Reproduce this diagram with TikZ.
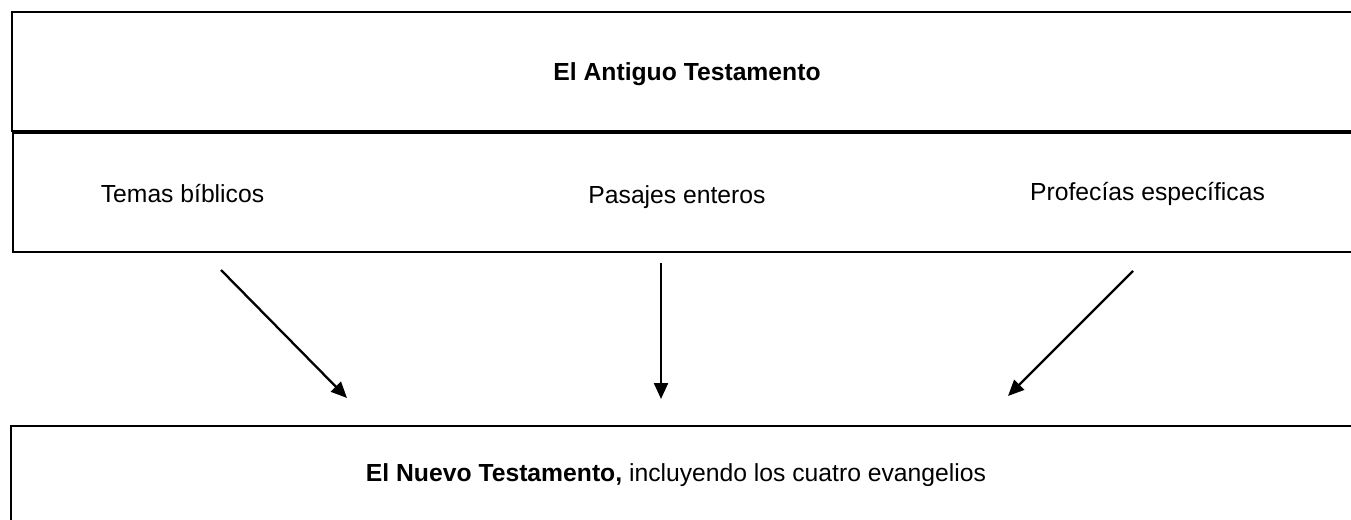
\documentclass[tikz,border=0pt]{standalone}
\usepackage{fontspec}
\setmainfont{Liberation Sans}
\usetikzlibrary{arrows.meta}
\begin{document}
\begin{tikzpicture}[x=1pt,y=-1pt,
  boxline/.style={draw=black, line width=2pt},
  lbl/.style={anchor=base, inner sep=0pt, font=\fontsize{24.7}{29}\selectfont},
  conn/.style={line width=2.3pt, -{Triangle[length=16pt,width=14pt]}}]
\useasboundingbox (0,0) rectangle (1351,519);
\clip (0,0) rectangle (1351,519);
% boxes
\draw[boxline] (1370,12) -- (12,12) -- (12,131) -- (1370,131);
\draw[boxline] (1370,133) -- (13,133) -- (13,252) -- (1370,252);
\draw[boxline] (1370,426) -- (11,426) -- (11,540);
% texts
\node[lbl] (ot) at (687,80.5) {\bfseries El Antiguo Testamento};
\node[lbl] (tb) at (182.5,202.3) {Temas bíblicos};
\node[lbl] (pe) at (677,203) {Pasajes enteros};
\node[lbl] (pr) at (1147.5,200.7) {Profecías específicas};
\node[lbl] (nt) at (676,481.5) {\textbf{El Nuevo Testamento,} incluyendo los cuatro evangelios};
% arrow ends
\coordinate (a1s) at (221,270);
\coordinate (a1e) at (347,398);
\coordinate (a2s) at (661,263);
\coordinate (a2e) at (661,399);
\coordinate (a3s) at (1133,271);
\coordinate (a3e) at (1008,396);
\draw[conn] (a1s) -- (a1e);
\draw[conn] (a2s) -- (a2e);
\draw[conn] (a3s) -- (a3e);
\end{tikzpicture}
\end{document}
